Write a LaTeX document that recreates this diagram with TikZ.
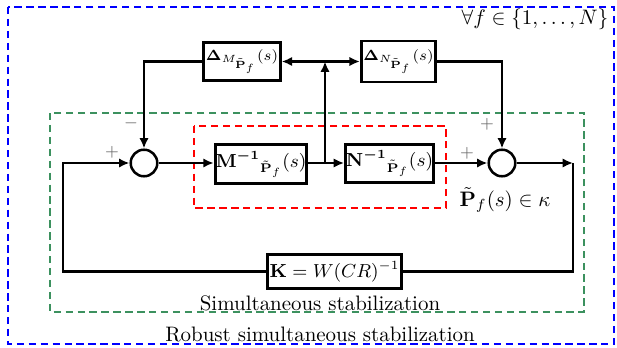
\documentclass[tikz,border=0pt]{standalone}
\usepackage{amsmath,amssymb}
\usetikzlibrary{arrows.meta}
\definecolor{dgreen}{RGB}{60,145,95}
\begin{document}
\begin{tikzpicture}[x=0.478pt,y=-0.478pt,
  blk/.style={draw,line width=1.4pt,inner sep=1pt},
  sumc/.style={draw,circle,line width=1.2pt,minimum size=12.7pt,inner sep=0pt},
  wire/.style={line width=1.2pt},
  arr/.style={wire,-{Latex[length=5pt,width=4.5pt]}},
  darr/.style={wire,{Latex[length=5pt,width=4.5pt]}-{Latex[length=5pt,width=4.5pt]}},
  sgn/.style={text=black!60,font=\footnotesize,inner sep=0pt},
  frame/.style={line width=0.7pt,dash pattern=on 3.5pt off 2.2pt}]
\useasboundingbox (0,0) rectangle (617,348);
\draw[frame,blue] (8,7) rectangle (614,344);
\draw[frame,dgreen] (50,113) rectangle (584,312);
\draw[frame,red] (194,126) rectangle (446,208);
\node[sumc] (s1) at (144,163) {};
\node[sumc] (s2) at (502,163) {};
\node[blk,inner sep=0.2pt,minimum width=39.7pt,minimum height=19pt,font=\small] (M) at (261,164) {$\mathbf{M}^{\boldsymbol{-}\mathbf{1}}{}_{\tilde{\mathbf P}_f}(s)$};
\node[blk,inner sep=0.2pt,minimum width=36.4pt,minimum height=18.6pt,font=\small] (N) at (389.5,163.5) {$\mathbf{N}^{\boldsymbol{-}\mathbf{1}}{}_{\tilde{\mathbf P}_f}(s)$};
\node[blk,minimum width=33.5pt,minimum height=18.2pt,font=\scriptsize] (dM) at (242,61.5) {$\mathbf{\Delta}_{M_{\tilde{\mathbf P}_f}}(s)$};
\node[blk,minimum width=33.5pt,minimum height=19.6pt,font=\scriptsize] (dN) at (398.5,61.5) {$\mathbf{\Delta}_{N_{\tilde{\mathbf P}_f}}(s)$};
\node[blk,minimum width=64pt,minimum height=16.3pt,font=\small] (K) at (334.5,271.5) {$\mathbf{K}=W(CR)^{-1}$};
\coordinate (j) at (325,163);
\coordinate (top) at (325,61.5);
\coordinate (c2) at (573,163);
\coordinate (c1) at (63,163);
\draw[arr] (s1) -- (M.west |- s1);
\draw[wire] (M.east |- j) -- (j);
\draw[arr] (j) -- (N.west |- j);
\draw[arr] (N.east |- s2) -- (s2);
\draw[arr] (j) -- (top);
\draw[darr] (dM) -- (dN);
\draw[arr] (dM.west) -| (s1);
\draw[arr] (dN.east) -| (s2);
\draw[arr] (s2) -- (c2);
\draw[wire] (c2) |- (K.east);
\draw[arr] (K.west) -| (c1) -- (s1);
\node[sgn] (m1) at (131,123) {$-$};
\node[sgn] (p1) at (112,152) {$+$};
\node[sgn] (p2) at (487,124) {$+$};
\node[sgn] (p3) at (467,153) {$+$};
\node (pk) at (505,200) {$\tilde{\mathbf P}_f(s)\in\kappa$};
\node (fa) at (535,19) {$\forall f\in\{1,\ldots,N\}$};
\node (sim) at (320,303) {Simultaneous stabilization};
\node (rob) at (320,334) {Robust simultaneous stabilization};
\end{tikzpicture}
\end{document}
